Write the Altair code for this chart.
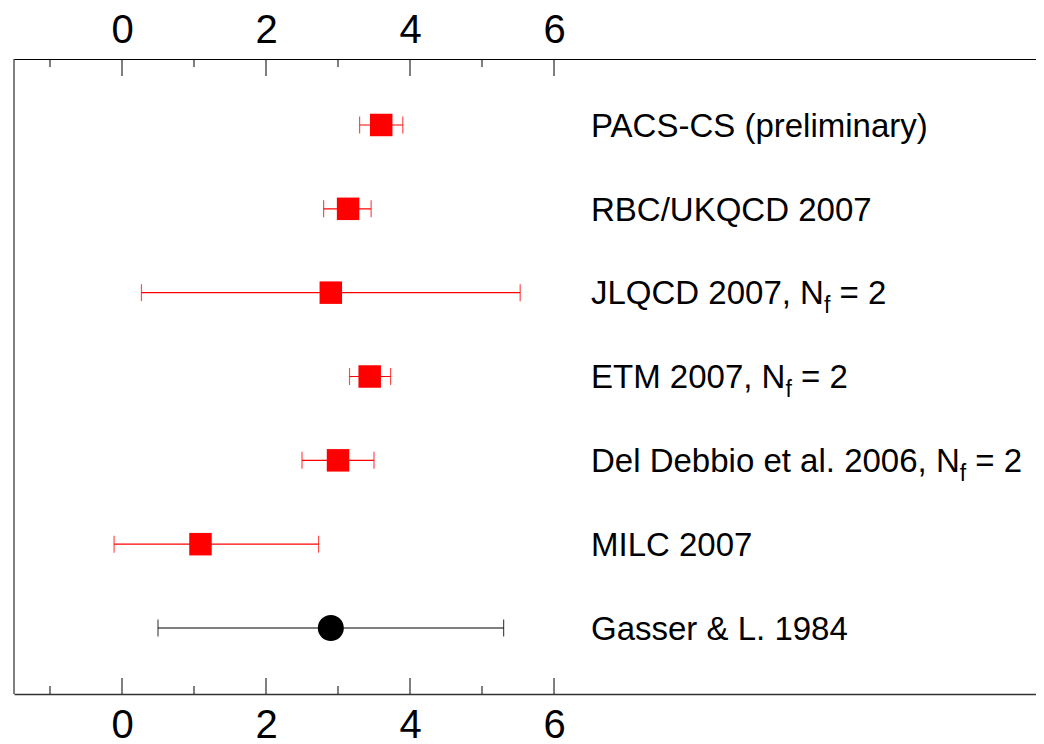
import altair as alt
import pandas as pd

# ---- data ----
names = ["PACS-CS (preliminary)", "RBC/UKQCD 2007", "JLQCD 2007, N", "ETM 2007, N",
         "Del Debbio et al. 2006, N", "MILC 2007", "Gasser & L. 1984"]
subs = ["", "", "f", "f", "f", "", ""]
suffixes = ["", "", "= 2", "= 2", "= 2", "", ""]
centers = [3.60, 3.14, 2.90, 3.44, 3.00, 1.09, 2.90]
lows = [3.30, 2.80, 0.27, 3.16, 2.50, -0.11, 0.50]
highs = [3.90, 3.46, 5.53, 3.73, 3.50, 2.73, 5.30]
kinds = ["lattice"] * 6 + ["phenomenology"]
major_ticks = [0, 2, 4, 6]
minor_ticks = [-1, 1, 3, 5]

df = pd.DataFrame({"name": names, "sub": subs, "suffix": suffixes,
                   "center": centers, "lo": lows, "hi": highs, "kind": kinds})

# ---- layout ----
W, H = 1022, 635
FONT = "Liberation Sans"
LABEL_SIZE = 33
SUB_SIZE = 23
TEXT_X = 577
CAP_DY = 0.358 * LABEL_SIZE

ARIAL = {" ": 278, "(": 333, ")": 333, ",": 278, "-": 333, ".": 278, "/": 278, "=": 584, "&": 667,
         "A": 667, "B": 667, "C": 722, "D": 722, "E": 667, "F": 611, "G": 778, "H": 722, "I": 278,
         "J": 500, "K": 667, "L": 556, "M": 833, "N": 722, "O": 778, "P": 667, "Q": 778, "R": 722,
         "S": 667, "T": 611, "U": 722, "V": 667, "W": 944, "X": 667, "Y": 667, "Z": 611,
         "a": 556, "b": 556, "c": 500, "d": 556, "e": 556, "f": 278, "g": 556, "h": 556, "i": 222,
         "j": 222, "k": 500, "l": 222, "m": 833, "n": 556, "o": 556, "p": 556, "q": 556, "r": 333,
         "s": 500, "t": 278, "u": 556, "v": 500, "w": 722, "x": 500, "y": 500, "z": 500}
for d in "0123456789":
    ARIAL[d] = 556


def text_width(s, size):
    return sum(ARIAL.get(c, 556) for c in s) * size / 1000.0


xscale = alt.Scale(domain=[-1.5, 12.694], nice=False, zero=False)
yscale = alt.Scale(type="point", padding=0.787)
ysort = names

color = alt.Color("kind:N", scale=alt.Scale(domain=["lattice", "phenomenology"],
                                            range=["#ff0000", "#000000"]), legend=None)

base = alt.Chart(df)
y_enc = alt.Y("name:N", sort=ysort, scale=yscale, axis=None)

bars = base.mark_rule(strokeWidth=1.2).encode(
    x=alt.X("lo:Q", scale=xscale,
            axis=alt.Axis(orient="bottom", values=major_ticks, format="d", ticks=False, tickSize=0,
                          labelFont=FONT, labelFontSize=40, labelColor="#000",
                          labelBaseline="alphabetic", labelPadding=43, grid=False, title=None,
                          domainColor="#333", domainWidth=1.5)),
    x2="hi:Q",
    y=y_enc,
    color=color,
)

cap_lo = base.mark_tick(orient="vertical", size=17, thickness=1.2).encode(
    x=alt.X("lo:Q", scale=xscale, axis=None), y=y_enc, color=color)
cap_hi = base.mark_tick(orient="vertical", size=17, thickness=1.2).encode(
    x=alt.X("hi:Q", scale=xscale, axis=None), y=y_enc, color=color)

points = base.mark_point(filled=True, opacity=1, strokeWidth=0).encode(
    x=alt.X("center:Q", scale=xscale,
            axis=alt.Axis(orient="top", values=major_ticks, format="d", ticks=False, tickSize=0,
                          labelFont=FONT, labelFontSize=40, labelColor="#000",
                          labelBaseline="alphabetic", labelPadding=17, grid=False, title=None,
                          domainColor="#000", domainWidth=1)),
    y=y_enc,
    color=color,
    shape=alt.Shape("kind:N", scale=alt.Scale(domain=["lattice", "phenomenology"],
                                              range=["square", "circle"]), legend=None),
    size=alt.Size("kind:N", scale=alt.Scale(domain=["lattice", "phenomenology"],
                                            range=[506, 676]), legend=None),
)

# left frame line
left_line = alt.Chart(pd.DataFrame({"v": [0]})).mark_rule(color="#000", strokeWidth=1).encode(
    x=alt.value(0), y=alt.value(0), y2=alt.value(H))

# inward tick marks on top and bottom axes
maj = alt.Chart(pd.DataFrame({"v": major_ticks}))
mnr = alt.Chart(pd.DataFrame({"v": minor_ticks}))
tick_layers = [
    maj.mark_rule(color="#000", strokeWidth=1).encode(
        x=alt.X("v:Q", scale=xscale, axis=None), y=alt.value(0), y2=alt.value(17)),
    mnr.mark_rule(color="#000", strokeWidth=1).encode(
        x=alt.X("v:Q", scale=xscale, axis=None), y=alt.value(0), y2=alt.value(8)),
    maj.mark_rule(color="#000", strokeWidth=1).encode(
        x=alt.X("v:Q", scale=xscale, axis=None), y=alt.value(H), y2=alt.value(H - 16)),
    mnr.mark_rule(color="#000", strokeWidth=1).encode(
        x=alt.X("v:Q", scale=xscale, axis=None), y=alt.value(H), y2=alt.value(H - 8)),
]

labels_main = base.mark_text(align="left", baseline="alphabetic", font=FONT,
                             fontSize=LABEL_SIZE, dy=CAP_DY, color="#000").encode(
    x=alt.value(TEXT_X), y=y_enc, text="name:N")

extra = []
for nm, sb, sf in zip(names, subs, suffixes):
    if not sb:
        continue
    row = alt.Chart(df[df["name"] == nm])
    x_sub = TEXT_X + text_width(nm, LABEL_SIZE)
    x_suf = x_sub + text_width(sb, SUB_SIZE) + text_width(" ", LABEL_SIZE)
    extra.append(row.mark_text(align="left", baseline="alphabetic", font=FONT,
                               fontSize=SUB_SIZE, dy=CAP_DY + 9, color="#000").encode(
        x=alt.value(x_sub), y=y_enc, text="sub:N"))
    extra.append(row.mark_text(align="left", baseline="alphabetic", font=FONT,
                               fontSize=LABEL_SIZE, dy=CAP_DY, color="#000").encode(
        x=alt.value(x_suf), y=y_enc, text="suffix:N"))

chart = alt.layer(left_line, bars, cap_lo, cap_hi, points, *tick_layers, labels_main,
                  *extra).resolve_axis(
    x="independent"
).properties(
    width=W, height=H,
    autosize=alt.AutoSizeParams(type="none"),
    padding={"left": 6, "top": 51, "right": 0, "bottom": 50},
).configure_view(stroke=None)

chart.save("out.html", embed_options={"renderer": "svg", "actions": False})
